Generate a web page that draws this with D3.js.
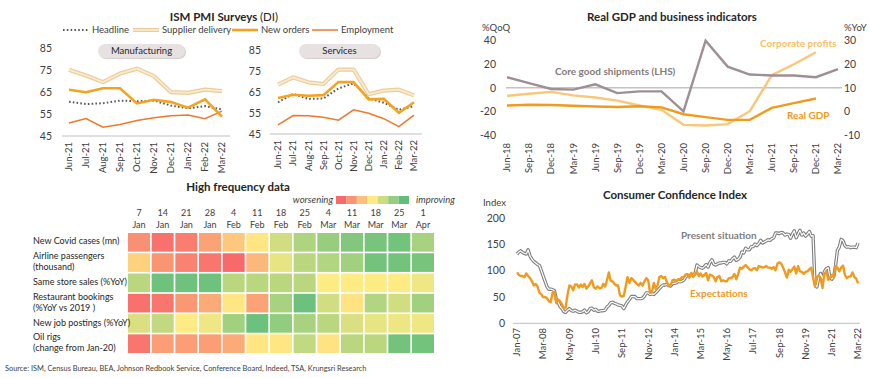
<html>
<head>
<script src="https://d3js.org/d3.v7.min.js"></script>
<style>
  body { margin: 0; background: #fff; }
  svg text { font-family: Lato, "Open Sans", sans-serif; fill: #262626; }
</style>
</head>
<body>
<svg width="870" height="378"></svg>
<script>
// ---- ISM PMI ----
const ismMonths = ["Jun-21","Jul-21","Aug-21","Sep-21","Oct-21","Nov-21","Dec-21","Jan-22","Feb-22","Mar-22"];
const ismTicks = [45, 55, 65, 75, 85];
const mfgHeadline = [60.6, 59.5, 59.9, 61.1, 60.8, 61.1, 58.8, 57.6, 58.6, 57.1];
const mfgSupplier = [75.1, 72.5, 69.5, 73.4, 75.6, 72.2, 64.9, 64.6, 66.1, 65.4];
const mfgNewOrders = [66.0, 64.9, 66.7, 66.7, 59.8, 61.5, 60.4, 57.9, 61.7, 53.8];
const mfgEmployment = [50.9, 52.9, 49.0, 50.2, 52.0, 53.3, 54.2, 54.5, 52.9, 56.3];
const svcHeadline = [60.1, 64.1, 61.7, 61.9, 66.7, 69.1, 62.0, 59.9, 56.5, 58.3];
const svcSupplier = [68.5, 72.0, 69.6, 68.8, 75.7, 75.7, 63.9, 65.7, 66.1, 63.4];
const svcNewOrders = [62.1, 63.7, 63.2, 63.5, 69.7, 69.7, 61.5, 61.7, 55.1, 60.1];
const svcEmployment = [49.3, 53.8, 53.7, 53.0, 51.6, 56.5, 54.9, 52.3, 48.5, 54.0];

// ---- Real GDP and business indicators ----
const gdpQuarters = ["Jun-18","Sep-18","Dec-18","Mar-19","Jun-19","Sep-19","Dec-19","Mar-20","Jun-20","Sep-20","Dec-20","Mar-21","Jun-21","Sep-21","Dec-21","Mar-22"];
const coreShipments = [9, 4, -1, -1.5, 3, -4.5, -3, -3, -20, 40, 18, 11.3, 10.5, 10.5, 9, 15.8];
const corpProfits = [6.6, 7.5, 8.3, 6.8, 5.9, 4.6, 2.5, 0.7, -5.7, -6.0, -5.4, 0.1, 15.4, 20.0, 25.1];
const realGdp = [2.5, 2.8, 2.7, 2.4, 2.1, 1.9, 2.2, 1.7, -1.2, -2.4, -3.6, -3.6, 1.5, 3.5, 5.5];
const gdpLeftTicks = [-40, -20, 0, 20, 40];
const gdpRightTicks = [-10, 0, 10, 20, 30];

// ---- High frequency data (0 = worsening, 1 = improving) ----
const hfDays = ["7","14","21","28","4","11","18","25","4","11","18","25","1"];
const hfMonths = ["Jan","Jan","Jan","Jan","Feb","Feb","Feb","Feb","Mar","Mar","Mar","Mar","Apr"];
const hfRows = [["New Covid cases (mn)"], ["Airline passengers", "(thousand)"], ["Same store sales (%YoY)"],
  ["Restaurant bookings", "(%YoY vs 2019 )"], ["New job postings (%YoY)"], ["Oil rigs", "(change from Jan-20)"]];
const hfCovid      = [0.15, 0.03, 0.08, 0.22, 0.36, 0.48, 0.65, 0.76, 0.83, 0.90, 0.93, 0.95, 0.78];
const hfAirline    = [0.40, 0.17, 0.10, 0.05, 0.00, 0.30, 0.58, 0.72, 0.75, 0.80, 0.95, 0.95, 0.93];
const hfSameStore  = [0.72, 0.96, 0.96, 0.96, 0.72, 0.72, 0.72, 0.72, 0.50, 0.50, 0.50, 0.50, 0.55];
const hfRestaurant = [0.03, 0.05, 0.18, 0.25, 0.48, 0.22, 0.78, 0.97, 0.65, 0.47, 0.75, 0.65, 0.80];
const hfJobs       = [0.62, 0.70, 0.50, 0.55, 0.80, 0.97, 0.85, 0.78, 0.72, 0.62, 0.58, 0.56, 0.55];
const hfOilRigs    = [0.05, 0.20, 0.20, 0.20, 0.25, 0.48, 0.48, 0.70, 0.47, 0.72, 0.72, 0.95, 0.95];
const hfValues = [hfCovid, hfAirline, hfSameStore, hfRestaurant, hfJobs, hfOilRigs];

// ---- Consumer Confidence Index, monthly Jan-07 .. Mar-22 ----
const cciStart = new Date(2007, 0, 1);
const cciTicks = [0, 50, 100, 150, 200];
const presentSituation = [
  132,136,138,135,133,132,140,128,122,118,115,112,
  110,100, 90, 80, 70, 65, 65, 64, 62, 45, 40, 32,
  28, 22, 21, 25, 28, 24, 23, 25, 23, 21, 21, 22,
  25, 20, 22, 28, 29, 25, 27, 23, 23, 24, 24, 25,
  31, 34, 39, 40, 38, 37, 35, 34, 33, 28, 35, 41,
  45, 51, 51, 51, 47, 47, 47, 48, 52, 58, 58, 55,
  56, 55, 58, 62, 66, 70, 73, 73, 74, 72, 71, 76,
  76, 77, 80, 79, 80, 82, 88, 92, 90, 93, 93, 94,
  111,108,106,105,108,112,107,116,121,113,111,113,
  115,115,116,116,113,119,118,123,126,120,122,126,
  136,134,143,140,140,146,146,151,148,152,158,153,
  155,157,159,158,161,163,172,172,171,173,172,168,
  170,169,162,170,176,163,170,177,168,172,166,170,
  175,166,167, 76, 69, 87, 95, 85, 98,104,106, 88,
  84, 89,110,139,145,160,157,148,145,146,144,145,
  145,144,153];
const expectations = [
  97, 92, 90, 90, 88, 95, 90, 86, 80, 72, 75, 70,
  58, 55, 50, 50, 48, 42, 40, 58, 60, 38, 45, 42,
  36, 28, 30, 55, 72, 70, 63, 74, 74, 68, 74, 69,
  75, 66, 70, 76, 82, 69, 66, 70, 67, 67, 75, 70,
  82, 97, 81, 80, 75, 72, 72, 53, 51, 52, 70, 88,
  77, 86, 83, 79, 75, 72, 77, 72, 80, 86, 82, 58,
  60, 77, 66, 72, 88, 90, 86, 88, 78, 72, 73, 82,
  83, 80, 84, 83, 88, 88, 93, 93, 87, 96, 88, 93,
  99, 90, 95, 89, 92, 96, 82, 93, 91, 88, 80, 88,
  90, 80, 82, 80, 80, 86, 86, 88, 94, 84, 94,106,
  104,108,111,107,103,101,104,105,101,109,108,106,
  107,109,106,106,104,107,101,114,116,114,106, 97,
  87,102, 98,103,108, 95,109, 99, 98, 94, 98, 99,
  103,106, 87, 70, 88, 91, 86, 67, 94, 99, 83, 87,
  92, 88,109,106, 99,106,110, 92, 86, 89, 89, 97,
  88, 85, 76];

const svg = d3.select("svg");
const greyText = "#404040";

// ================= ISM PMI Surveys =================
const ism = svg.append("g");
const ismTitle = ism.append("text").attr("x", 224).attr("y", 21).attr("text-anchor", "middle").style("font-size", "11.5px");
ismTitle.append("tspan").style("font-weight", "bold").text("ISM PMI Surveys ");
ismTitle.append("tspan").text("(DI)");

const ismSeries = [
  { name: "Headline", key: "head" },
  { name: "Supplier delivery", key: "sup" },
  { name: "New orders", key: "new" },
  { name: "Employment", key: "emp" }
];
const legendX = [63, 133, 232, 312];
function styleIsmLine(sel, key) {
  if (key === "head") sel.attr("stroke", "#595959").attr("stroke-width", 2).attr("stroke-dasharray", "1.6,2.2");
  if (key === "new") sel.attr("stroke", "#f4a31f").attr("stroke-width", 2.6);
  if (key === "emp") sel.attr("stroke", "#ec7a2c").attr("stroke-width", 1.5);
}
ismSeries.forEach(function(s, i) {
  const lx = legendX[i];
  if (s.key === "sup") {
    ism.append("line").attr("x1", lx).attr("x2", lx + 26).attr("y1", 30).attr("y2", 30).attr("stroke", "#ebcd9a").attr("stroke-width", 4);
    ism.append("line").attr("x1", lx).attr("x2", lx + 26).attr("y1", 30).attr("y2", 30).attr("stroke", "#f9ead0").attr("stroke-width", 1.8);
  } else {
    ism.append("line").attr("x1", lx).attr("x2", lx + 26).attr("y1", 30).attr("y2", 30).call(styleIsmLine, s.key);
  }
  ism.append("text").attr("x", lx + 29).attr("y", 30).attr("dy", "0.35em").style("font-size", "9.5px").style("fill", greyText).text(s.name);
});

function drawIsm(cfg) {
  const g = ism.append("g");
  const x = d3.scalePoint().domain(ismMonths).range(cfg.xr);
  const y = d3.scaleLinear().domain([45, 85]).range(cfg.yr);
  // pill
  g.append("rect").attr("x", cfg.pill[0] + 1).attr("y", 45).attr("width", cfg.pill[1]).attr("height", 14).attr("rx", 7)
    .attr("fill", "#d6cfd0");
  g.append("rect").attr("x", cfg.pill[0]).attr("y", 44).attr("width", cfg.pill[1]).attr("height", 14).attr("rx", 7)
    .attr("fill", "#e8e1e2");
  g.append("text").attr("x", cfg.pill[0] + cfg.pill[1] / 2).attr("y", 51).attr("dy", "0.35em").attr("text-anchor", "middle")
    .style("font-size", "9.5px").text(cfg.name);
  // y labels
  g.selectAll(".yl").data(ismTicks).enter().append("text")
    .attr("x", cfg.yLabelX).attr("y", function(d) { return y(d); }).attr("dy", "0.35em").attr("text-anchor", "end")
    .style("font-size", "10.5px").style("fill", greyText).text(function(d) { return d; });
  // baseline
  g.append("line").attr("x1", cfg.axis[0]).attr("x2", cfg.axis[1]).attr("y1", y(45)).attr("y2", y(45)).attr("stroke", "#bfbfbf");
  // x labels
  g.selectAll(".xl").data(ismMonths).enter().append("text")
    .attr("transform", function(d) { return "translate(" + x(d) + "," + (y(45) + 6) + ") rotate(-90)"; })
    .attr("dy", "0.35em").attr("text-anchor", "end").style("font-size", "9.5px").style("fill", greyText)
    .text(function(d) { return d; });
  const line = d3.line().x(function(d, i) { return x(ismMonths[i]); }).y(function(d) { return y(d); });
  g.append("path").attr("d", line(cfg.sup)).attr("fill", "none").attr("stroke", "#ebcd9a").attr("stroke-width", 4.2).attr("stroke-linejoin", "round");
  g.append("path").attr("d", line(cfg.sup)).attr("fill", "none").attr("stroke", "#f9ead0").attr("stroke-width", 1.8).attr("stroke-linejoin", "round");
  g.append("path").attr("d", line(cfg.emp)).attr("fill", "none").call(styleIsmLine, "emp");
  g.append("path").attr("d", line(cfg.head)).attr("fill", "none").call(styleIsmLine, "head");
  g.append("path").attr("d", line(cfg.new)).attr("fill", "none").call(styleIsmLine, "new");
}
drawIsm({ name: "Manufacturing", xr: [69, 222], yr: [136, 48], yLabelX: 52, axis: [62, 230], pill: [98, 87],
  head: mfgHeadline, sup: mfgSupplier, new: mfgNewOrders, emp: mfgEmployment });
drawIsm({ name: "Services", xr: [278, 414], yr: [134, 50], yLabelX: 261, axis: [270, 422], pill: [299, 81],
  head: svcHeadline, sup: svcSupplier, new: svcNewOrders, emp: svcEmployment });

// ================= Real GDP and business indicators =================
const gdp = svg.append("g");
gdp.append("text").attr("x", 672).attr("y", 21).attr("text-anchor", "middle").style("font-size", "11.5px")
  .style("font-weight", "bold").text("Real GDP and business indicators");
gdp.append("text").attr("x", 482).attr("y", 31).style("font-size", "9.5px").style("fill", greyText).text("%QoQ");
gdp.append("text").attr("x", 844).attr("y", 31).style("font-size", "9.5px").style("fill", greyText).text("%YoY");
const gx = d3.scalePoint().domain(gdpQuarters).range([507, 838]);
const gyL = d3.scaleLinear().domain([-40, 40]).range([135, 40.7]);
const gyR = d3.scaleLinear().domain([-10, 30]).range([135, 40.7]);
gdp.selectAll(".yl").data(gdpLeftTicks).enter().append("text")
  .attr("x", 496).attr("y", function(d) { return gyL(d); }).attr("dy", "0.35em").attr("text-anchor", "end")
  .style("font-size", "10.5px").style("fill", greyText).text(function(d) { return d; });
gdp.selectAll(".yr").data(gdpRightTicks).enter().append("text")
  .attr("x", 844).attr("y", function(d) { return gyR(d); }).attr("dy", "0.35em")
  .style("font-size", "10.5px").style("fill", greyText).text(function(d) { return d; });
gdp.append("line").attr("x1", 506).attr("x2", 842).attr("y1", gyL(0)).attr("y2", gyL(0)).attr("stroke", "#a6a6a6");
gdp.selectAll(".xl").data(gdpQuarters).enter().append("text")
  .attr("transform", function(d) { return "translate(" + gx(d) + ",143) rotate(-90)"; })
  .attr("dy", "0.35em").attr("text-anchor", "end").style("font-size", "9.5px").style("fill", greyText)
  .text(function(d) { return d; });
const lineL = d3.line().x(function(d, i) { return gx(gdpQuarters[i]); }).y(function(d) { return gyL(d); });
const lineR = d3.line().x(function(d, i) { return gx(gdpQuarters[i]); }).y(function(d) { return gyR(d); });
gdp.append("path").attr("d", lineR(corpProfits)).attr("fill", "none").attr("stroke", "#f8c778").attr("stroke-width", 2.4);
gdp.append("path").attr("d", lineR(realGdp)).attr("fill", "none").attr("stroke", "#f29a1d").attr("stroke-width", 2.4);
gdp.append("path").attr("d", lineL(coreShipments)).attr("fill", "none").attr("stroke", "#9d8f92").attr("stroke-width", 2.4);
gdp.append("text").attr("x", 555).attr("y", 71).attr("dy", "0.35em").style("font-size", "10px").style("font-weight", "bold")
  .style("fill", "#857a7c").text("Core good shipments (LHS)");
gdp.append("text").attr("x", 760).attr("y", 43).attr("dy", "0.35em").style("font-size", "10px").style("font-weight", "bold")
  .style("fill", "#f8c066").text("Corporate profits");
gdp.append("text").attr("x", 787).attr("y", 115).attr("dy", "0.35em").style("font-size", "10px").style("font-weight", "bold")
  .style("fill", "#f09a1a").text("Real GDP");

// ================= High frequency data =================
const hf = svg.append("g");
hf.append("text").attr("x", 238).attr("y", 191).attr("text-anchor", "middle").style("font-size", "11.5px")
  .style("font-weight", "bold").text("High frequency data");
const heatColor = d3.scaleLinear().domain([0, 0.5, 1]).range(["#f8696b", "#ffeb84", "#63be7b"]);
const legendSteps = d3.range(7).map(function(i) { return i / 6; });
const lgx = d3.scaleBand().domain(legendSteps).range([336, 409]);
hf.selectAll(".lg").data(legendSteps).enter().append("rect")
  .attr("x", function(d) { return lgx(d); }).attr("y", 196).attr("width", lgx.bandwidth()).attr("height", 8)
  .attr("fill", function(d) { return heatColor(d); });
hf.append("text").attr("x", 333).attr("y", 200).attr("dy", "0.35em").attr("text-anchor", "end").style("font-size", "9.5px")
  .style("font-style", "italic").style("fill", greyText).text("worsening");
hf.append("text").attr("x", 416).attr("y", 200).attr("dy", "0.35em").style("font-size", "9.5px")
  .style("font-style", "italic").style("fill", greyText).text("improving");

const cols = d3.range(hfDays.length);
const hx = d3.scaleBand().domain(cols).range([128, 434]).paddingInner(0.07);
const hy = d3.scaleBand().domain(d3.range(hfRows.length)).range([233, 353]).paddingInner(0.08);
hf.selectAll(".cd").data(cols).enter().append("text")
  .attr("x", function(d) { return hx(d) + hx.bandwidth() / 2; }).attr("y", 213).attr("dy", "0.35em").attr("text-anchor", "middle")
  .style("font-size", "9px").style("fill", greyText).text(function(d) { return hfDays[d]; });
hf.selectAll(".cm").data(cols).enter().append("text")
  .attr("x", function(d) { return hx(d) + hx.bandwidth() / 2; }).attr("y", 225).attr("dy", "0.35em").attr("text-anchor", "middle")
  .style("font-size", "9px").style("fill", greyText).text(function(d) { return hfMonths[d]; });
hfValues.forEach(function(row, r) {
  hf.selectAll(".c" + r).data(row).enter().append("rect")
    .attr("x", function(d, i) { return hx(i); }).attr("y", hy(r))
    .attr("width", hx.bandwidth()).attr("height", hy.bandwidth())
    .attr("fill", function(d) { return heatColor(d); });
  const lines = hfRows[r];
  const cy = hy(r) + hy.bandwidth() / 2 - 1;
  lines.forEach(function(t, k) {
    hf.append("text").attr("x", 33).attr("y", cy + (k - (lines.length - 1) / 2) * 11).attr("dy", "0.35em")
      .style("font-size", "9px").text(t);
  });
});

// ================= Consumer Confidence Index =================
const cci = svg.append("g");
cci.append("text").attr("x", 675).attr("y", 199).attr("text-anchor", "middle").style("font-size", "11.5px")
  .style("font-weight", "bold").text("Consumer Confidence Index");
cci.append("text").attr("x", 483).attr("y", 206).style("font-size", "9.5px").style("fill", greyText).text("Index");
const cciDates = presentSituation.map(function(d, i) { return d3.timeMonth.offset(cciStart, i); });
const cx = d3.scaleTime().domain([cciStart, cciDates[cciDates.length - 1]]).range([517, 858]);
const cy = d3.scaleLinear().domain([0, 200]).range([323.3, 218.3]);
cci.selectAll(".yl").data(cciTicks).enter().append("text")
  .attr("x", 505).attr("y", function(d) { return cy(d); }).attr("dy", "0.35em").attr("text-anchor", "end")
  .style("font-size", "10.5px").style("fill", greyText).text(function(d) { return d; });
cci.append("line").attr("x1", 513).attr("x2", 860).attr("y1", cy(0)).attr("y2", cy(0)).attr("stroke", "#bfbfbf");
const cciTickDates = d3.range(0, cciDates.length, 14).map(function(i) { return cciDates[i]; });
const fmt = d3.timeFormat("%b-%y");
cci.selectAll(".xl").data(cciTickDates).enter().append("text")
  .attr("transform", function(d) { return "translate(" + cx(d) + ",328) rotate(-90)"; })
  .attr("dy", "0.35em").attr("text-anchor", "end").style("font-size", "9.5px").style("fill", greyText)
  .text(function(d) { return fmt(d); });
const cline = d3.line().x(function(d, i) { return cx(cciDates[i]); }).y(function(d) { return cy(d); });
cci.append("path").attr("d", cline(presentSituation)).attr("fill", "none").attr("stroke", "#7f7f7f").attr("stroke-width", 3.4).attr("stroke-linejoin", "round");
cci.append("path").attr("d", cline(presentSituation)).attr("fill", "none").attr("stroke", "#ffffff").attr("stroke-width", 1.2).attr("stroke-linejoin", "round");
cci.append("path").attr("d", cline(expectations)).attr("fill", "none").attr("stroke", "#f29a1d").attr("stroke-width", 2.4).attr("stroke-linejoin", "round");
cci.append("text").attr("x", 681).attr("y", 235).attr("dy", "0.35em").style("font-size", "10px").style("font-weight", "bold")
  .style("fill", "#7f7f7f").text("Present situation");
cci.append("text").attr("x", 690).attr("y", 293).attr("dy", "0.35em").style("font-size", "10px").style("font-weight", "bold")
  .style("fill", "#f29a1d").text("Expectations");

// source
svg.append("text").attr("x", 5).attr("y", 371).style("font-size", "7.4px").style("fill", greyText)
  .text("Source: ISM, Census Bureau, BEA, Johnson Redbook Service, Conference Board, Indeed, TSA, Krungsri Research");
</script>
</body>
</html>
